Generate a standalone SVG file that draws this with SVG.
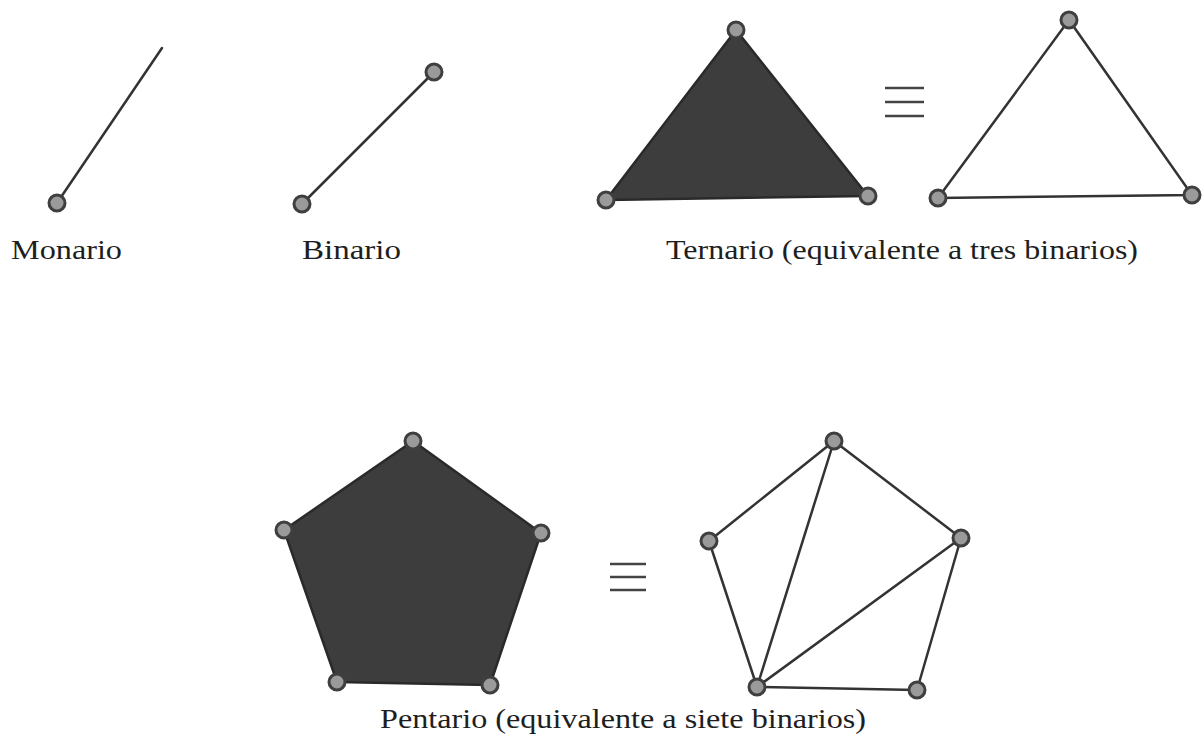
<svg xmlns="http://www.w3.org/2000/svg" width="1203" height="755" viewBox="0 0 1203 755">
<style>
.e{stroke:#333;stroke-width:2.5;fill:none;stroke-linecap:round}
.f{fill:#3d3d3d;stroke:#2a2a2a;stroke-width:2.5;stroke-linejoin:round}
.v{fill:#9a9a9a;stroke:#3f3f3f;stroke-width:3}
.t{font-family:"Liberation Serif","Times New Roman",serif;font-size:28px;fill:#1e1e1e}
.q{stroke:#444;stroke-width:2.5}
</style>
<rect width="1203" height="755" fill="#fff"/>
<g id="monario">
<line class="e" x1="57" y1="203" x2="162" y2="48"/>
<circle class="v" cx="57" cy="203" r="8"/>
<text class="t" x="11" y="259" textLength="111" lengthAdjust="spacingAndGlyphs">Monario</text>
</g>
<g id="binario">
<line class="e" x1="302" y1="204" x2="434" y2="72"/>
<circle class="v" cx="302" cy="204" r="8"/>
<circle class="v" cx="434" cy="72" r="8"/>
<text class="t" x="302" y="259" textLength="99" lengthAdjust="spacingAndGlyphs">Binario</text>
</g>
<g id="ternario">
<polygon class="f" points="736,30 606,200 868,196"/>
<circle class="v" cx="736" cy="30" r="8"/>
<circle class="v" cx="606" cy="200" r="8"/>
<circle class="v" cx="868" cy="196" r="8"/>
<g id="eq1"><line class="q" x1="885" y1="88" x2="924" y2="88"/><line class="q" x1="885" y1="102" x2="924" y2="102"/><line class="q" x1="885" y1="116" x2="924" y2="116"/></g>
<g id="ternario-binarios">
<polygon class="e" points="1069,20 938,198 1192,195"/>
<circle class="v" cx="1069" cy="20" r="8"/>
<circle class="v" cx="938" cy="198" r="8"/>
<circle class="v" cx="1192" cy="195" r="8"/>
</g>
<text class="t" x="666" y="259" textLength="472" lengthAdjust="spacingAndGlyphs">Ternario (equivalente a tres binarios)</text>
</g>
<g id="pentario">
<polygon class="f" points="413,441 541,533 490,685 337,682 284,530"/>
<circle class="v" cx="413" cy="441" r="8"/>
<circle class="v" cx="541" cy="533" r="8"/>
<circle class="v" cx="490" cy="685" r="8"/>
<circle class="v" cx="337" cy="682" r="8"/>
<circle class="v" cx="284" cy="530" r="8"/>
<g id="eq2"><line class="q" x1="610" y1="564" x2="646" y2="564"/><line class="q" x1="610" y1="577" x2="646" y2="577"/><line class="q" x1="610" y1="590" x2="646" y2="590"/></g>
<g id="pentario-binarios">
<g id="connectors">
<line class="e" x1="834" y1="441" x2="709" y2="541"/>
<line class="e" x1="834" y1="441" x2="961" y2="538"/>
<line class="e" x1="709" y1="541" x2="757" y2="687"/>
<line class="e" x1="834" y1="441" x2="757" y2="687"/>
<line class="e" x1="961" y1="538" x2="757" y2="687"/>
<line class="e" x1="961" y1="538" x2="917" y2="690"/>
<line class="e" x1="757" y1="687" x2="917" y2="690"/>
</g>
<circle class="v" cx="834" cy="441" r="8"/>
<circle class="v" cx="709" cy="541" r="8"/>
<circle class="v" cx="961" cy="538" r="8"/>
<circle class="v" cx="757" cy="687" r="8"/>
<circle class="v" cx="917" cy="690" r="8"/>
</g>
<text class="t" x="380" y="728" textLength="486" lengthAdjust="spacingAndGlyphs">Pentario (equivalente a siete binarios)</text>
</g>
</svg>
